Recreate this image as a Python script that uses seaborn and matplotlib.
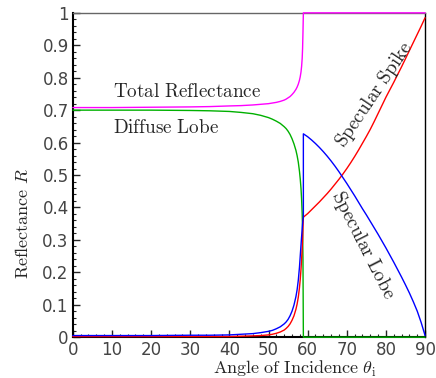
import numpy as np
import pandas as pd
import matplotlib
matplotlib.use("Agg")
import matplotlib.pyplot as plt
import seaborn as sns
from matplotlib.ticker import MultipleLocator

# ── Data ─────────────────────────────────────────────────────────────────────
# below the critical angle (~58.9 deg)
theta_lo = [0, 10, 20, 30, 35, 40, 43, 46, 48, 50, 51, 52, 53, 54, 54.5, 55, 55.5, 56, 56.5,
            57, 57.3, 57.6, 57.9, 58.1, 58.3, 58.45, 58.6, 58.7, 58.8, 58.9]
total_lo = [0.708, 0.708, 0.709, 0.710, 0.711, 0.713, 0.714, 0.716, 0.718, 0.720, 0.722, 0.724,
            0.727, 0.731, 0.734, 0.738, 0.742, 0.748, 0.755, 0.764, 0.771, 0.780, 0.792, 0.803,
            0.818, 0.835, 0.860, 0.890, 0.940, 1.0]
diffuse_lo = [0.700, 0.700, 0.700, 0.699, 0.698, 0.696, 0.693, 0.689, 0.684, 0.677, 0.672, 0.666,
              0.659, 0.649, 0.643, 0.635, 0.625, 0.612, 0.596, 0.576, 0.560, 0.540, 0.512, 0.488,
              0.458, 0.425, 0.380, 0.330, 0.240, 0.0]
lobe_lo = [0.005, 0.005, 0.005, 0.006, 0.006, 0.007, 0.009, 0.011, 0.014, 0.018, 0.021, 0.026,
           0.032, 0.041, 0.047, 0.055, 0.066, 0.080, 0.099, 0.125, 0.146, 0.175, 0.215, 0.250,
           0.285, 0.310, 0.335, 0.350, 0.362, 0.370]
spike_lo = [0.002, 0.002, 0.002, 0.002, 0.002, 0.002, 0.003, 0.004, 0.005, 0.007, 0.009, 0.012,
            0.016, 0.022, 0.027, 0.033, 0.041, 0.052, 0.066, 0.086, 0.102, 0.123, 0.152, 0.178,
            0.210, 0.240, 0.275, 0.300, 0.335, 0.370]

# above the critical angle
theta_hi = [58.9, 60, 61, 62, 63, 64, 65, 66, 67, 68, 69, 70, 71, 72, 73, 74, 75, 76, 77, 78,
            79, 80, 81, 82, 83, 84, 85, 86, 87, 88, 89, 90]
total_hi = [1.0] * len(theta_hi)
diffuse_hi = [0.0] * len(theta_hi)
lobe_hi = [0.627, 0.618, 0.608, 0.597, 0.585, 0.572, 0.558, 0.543, 0.527, 0.510, 0.492, 0.474,
           0.455, 0.436, 0.416, 0.396, 0.377, 0.357, 0.337, 0.317, 0.296, 0.275, 0.253, 0.231,
           0.208, 0.185, 0.161, 0.136, 0.109, 0.080, 0.045, 0.005]
spike_hi = [0.370, 0.381, 0.393, 0.405, 0.417, 0.430, 0.443, 0.457, 0.472, 0.487, 0.503, 0.520,
            0.538, 0.557, 0.577, 0.598, 0.619, 0.641, 0.665, 0.690, 0.715, 0.740, 0.763, 0.786,
            0.810, 0.834, 0.859, 0.884, 0.909, 0.934, 0.959, 0.985]

curves = {
    "Total Reflectance": (total_lo, total_hi, "#ff00ff"),
    "Diffuse Lobe": (diffuse_lo, diffuse_hi, "#00b000"),
    "Specular Lobe": (lobe_lo, lobe_hi, "#0000ff"),
    "Specular Spike": (spike_lo, spike_hi, "#ff0000"),
}

# ── Plot ─────────────────────────────────────────────────────────────────────
sns.set_theme(style="ticks")
plt.rcParams["mathtext.fontset"] = "cm"
plt.rcParams["font.family"] = ["DejaVu Sans"]

fig = plt.figure(figsize=(4.36, 3.78), dpi=100)
ax = fig.add_axes([0.167, 0.108, 0.808, 0.858])

for name in ["Diffuse Lobe", "Specular Spike", "Specular Lobe", "Total Reflectance"]:
    lo, hi, color = curves[name]
    df = pd.DataFrame({"theta": theta_lo + theta_hi, "R": lo + hi})
    sns.lineplot(data=df, x="theta", y="R", sort=False, estimator=None,
                 color=color, lw=1.0, ax=ax, clip_on=False, zorder=3)

ax.set_xlim(0, 90)
ax.set_ylim(0, 1)
ax.xaxis.set_major_locator(MultipleLocator(10))
ax.xaxis.set_minor_locator(MultipleLocator(2))
ax.yaxis.set_major_locator(MultipleLocator(0.1))
ax.yaxis.set_minor_locator(MultipleLocator(0.02))
ax.set_yticklabels([f"{v:g}" for v in ax.get_yticks()])
ax.tick_params(which="both", direction="in", top=False, right=False,
               labelsize=12, labelcolor="#444444", pad=3)
ax.tick_params(which="major", length=5, width=1)
ax.tick_params(which="minor", length=2.5, width=0.8)
for s in ax.spines.values():
    s.set_color("black")
    s.set_linewidth(1.0)
ax.spines["left"].set_linewidth(1.5)
ax.spines["bottom"].set_linewidth(1.5)
ax.spines["top"].set_color("#666666")

ax.set_xlabel(r"$\mathrm{Angle\ of\ Incidence}\ \theta_\mathrm{i}$", fontsize=13)
ax.set_ylabel(r"$\mathrm{Reflectance}\ R$", fontsize=13)
ax.xaxis.set_label_coords(0.63, -0.066)
ax.yaxis.set_label_coords(-0.115, 0.35)

ax.text(10.2, 0.756, r"$\mathrm{Total\ Reflectance}$", fontsize=13.8, va="center", ha="left")
ax.text(10.2, 0.645, r"$\mathrm{Diffuse\ Lobe}$", fontsize=13.8, va="center", ha="left")
ax.text(77.0, 0.747, r"$\mathrm{Specular\ Spike}$", fontsize=13.8, va="center", ha="center",
        rotation=56, rotation_mode="anchor")
ax.text(74.2, 0.284, r"$\mathrm{Specular\ Lobe}$", fontsize=13.8, va="center", ha="center",
        rotation=-63, rotation_mode="anchor")

fig.savefig("out.png", dpi=100)
